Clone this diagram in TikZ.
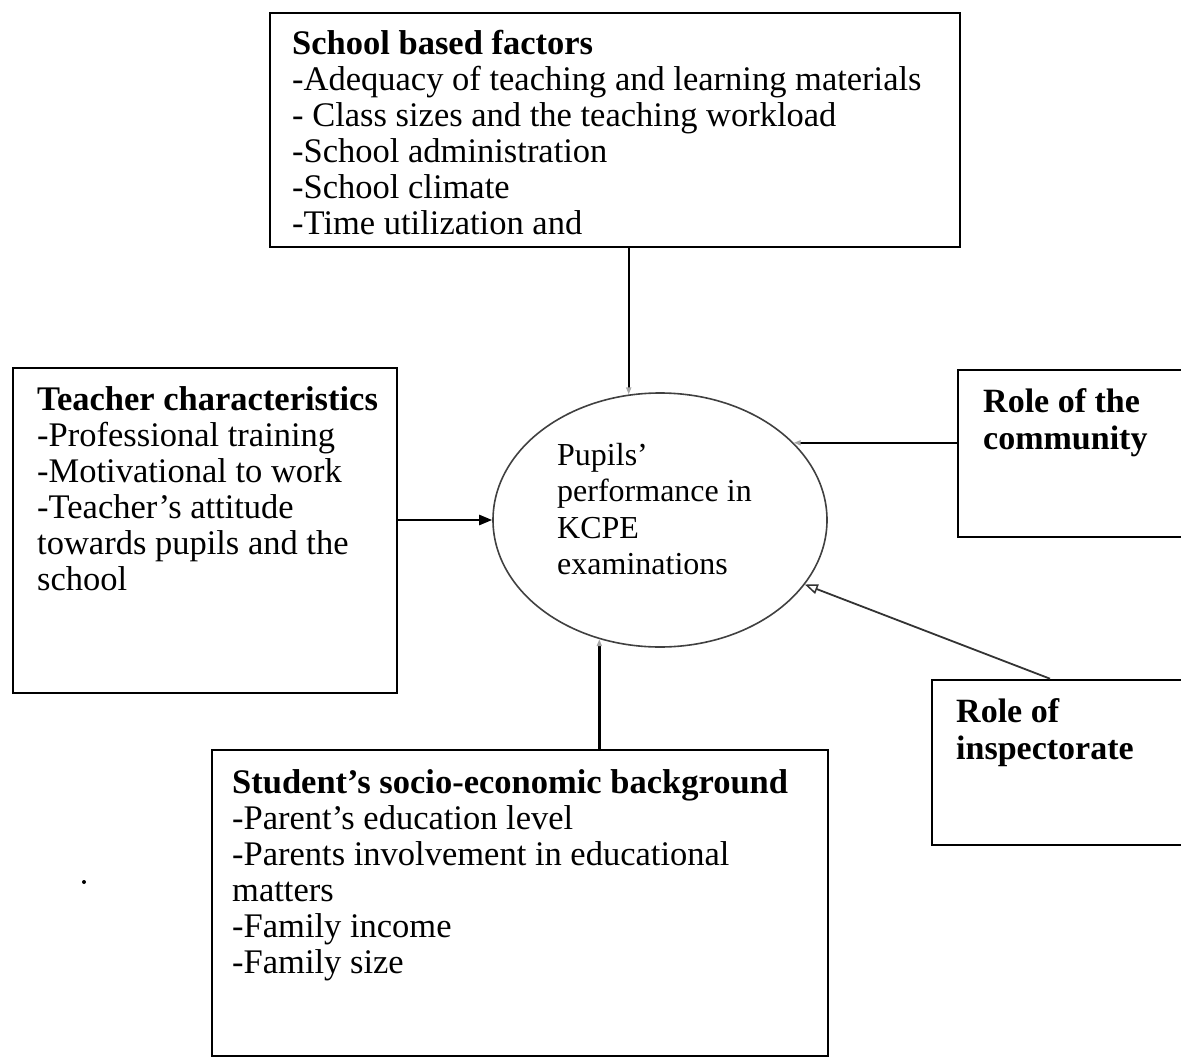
\documentclass[tikz,border=0pt]{standalone}
\usepackage{fontspec}
\setmainfont{Liberation Serif}
\usetikzlibrary{shapes.geometric,arrows.meta}
\begin{document}
\begin{tikzpicture}[x=1pt,y=-1pt,
  box/.style={draw, rectangle, line width=2.6pt, inner sep=0pt},
  txt/.style={anchor=base west, inner sep=0pt, font=\fontsize{34.5}{36}\selectfont},
  perf/.style={draw=black!75, ellipse, line width=1.6pt, inner sep=0pt},
  arr/.style={line width=2.4pt, -{Triangle[length=13pt,width=10pt]}},
  faintarr/.style={line width=2.4pt, -{Triangle[length=7pt,width=5pt,color=black!35]}},
  openarr/.style={line width=1.8pt, draw=black!80, -{Triangle[open,length=13pt,width=10pt,line width=1.5pt]}}]
\useasboundingbox (0,0) rectangle (1181,1057);

% boxes
\node[box, minimum width=690pt, minimum height=234pt] (top) at (615,130) {};
\node[box, minimum width=384pt, minimum height=325pt] (left) at (205,530.5) {};
\node[box, minimum width=232pt, minimum height=167pt] (comm) at (1074,453.5) {};
\node[box, minimum width=258pt, minimum height=165pt] (insp) at (1061,762.5) {};
\node[box, minimum width=616pt, minimum height=306pt] (bot) at (520,903) {};
\node[perf, minimum width=334pt, minimum height=254pt] (ell) at (660,520) {};

% texts
\node[txt] (toptxt) at (292,55) {\begin{tabular}[t]{@{}l@{}}\textbf{School based factors}\\
-Adequacy of teaching and learning materials\\
- Class sizes and the teaching workload\\
-School administration\\
-School climate\\
-Time utilization and\end{tabular}};

\node[txt] (lefttxt) at (37,410) {\begin{tabular}[t]{@{}l@{}}\textbf{Teacher characteristics}\\
-Professional training\\
-Motivational to work\\
-Teacher’s attitude\\
towards pupils and the\\
school\end{tabular}};

\node[txt, font=\fontsize{32}{36.5}\selectfont] (elltxt) at (557,465) {\begin{tabular}[t]{@{}l@{}}Pupils’\\
performance in\\
KCPE\\
examinations\end{tabular}};

\node[txt, font=\fontsize{34}{37}\selectfont] (commtxt) at (983,412) {\begin{tabular}[t]{@{}l@{}}\textbf{Role of the}\\
\textbf{community}\end{tabular}};

\node[txt, font=\fontsize{34}{37}\selectfont] (insptxt) at (956,722) {\begin{tabular}[t]{@{}l@{}}\textbf{Role of}\\
\textbf{inspectorate}\end{tabular}};

\node[txt] (bottxt) at (232,793) {\begin{tabular}[t]{@{}l@{}}\textbf{Student’s socio-economic background}\\
-Parent’s education level\\
-Parents involvement in educational\\
matters\\
-Family income\\
-Family size\end{tabular}};

% connectors
\draw[faintarr] (ell.104.8 |- top.south) -- (ell.104.8);
\draw[arr] (ell.west -| left.east) -- (ell.west);
\draw[faintarr] (ell.30.6 -| comm.west) -- (ell.30.6);
\draw[openarr] ([xshift=-11pt]insp.north) -- (ell.-24.8);
\draw[faintarr] (ell.243.1 |- bot.north) -- (ell.243.1);

% stray dot
\fill (84,882) circle (2pt);
\end{tikzpicture}
\end{document}
